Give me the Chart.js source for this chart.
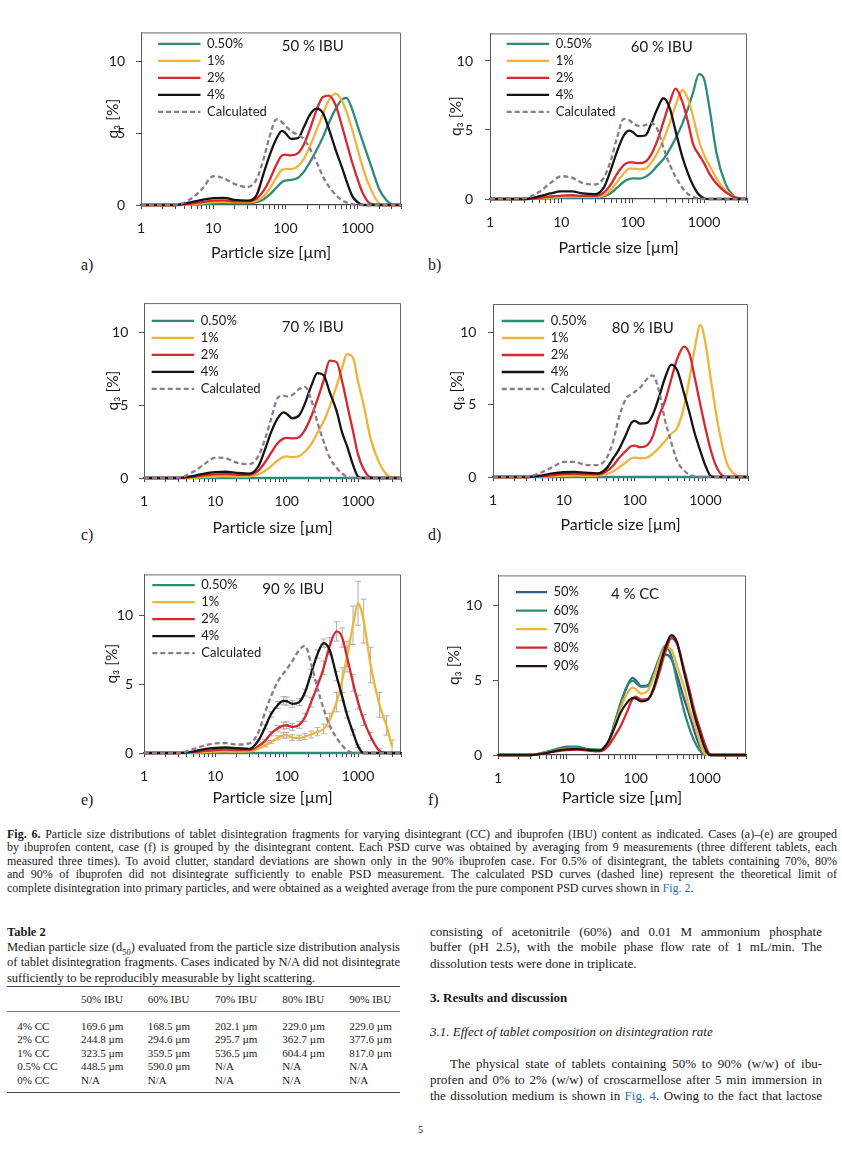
<!DOCTYPE html>
<html><head><meta charset="utf-8">
<title>Fig. 6 – Particle size distributions</title>
<script src="https://cdn.jsdelivr.net/npm/chart.js@4.4.1/dist/chart.umd.min.js"></script>
<style>
html,body{margin:0;padding:0;background:#fff}
body{width:842px;height:1154px;position:relative;overflow:hidden;font-family:"Liberation Serif","Times New Roman",serif;color:#1a1a1a}
.t{position:absolute;white-space:nowrap;line-height:1}
.cap{font-size:12px}
.tc{font-size:12.5px}
.tb{font-size:11px}
.rc{font-size:13px}
.pl{font-size:16px}
.lnk{color:#2f6fb0}
.rule{position:absolute;left:7px;width:393px;background:#444}
</style></head><body>

<div class="t pl" style="left:81px;top:257px">a)</div>
<div class="t pl" style="left:428px;top:257px">b)</div>
<div class="t pl" style="left:81px;top:527px">c)</div>
<div class="t pl" style="left:428px;top:527px">d)</div>
<div class="t pl" style="left:81px;top:792px">e)</div>
<div class="t pl" style="left:428px;top:792px">f)</div>

<div class="t cap j" data-w="830" style="left:7px;top:828.1px"><b>Fig. 6.</b> Particle size distributions of tablet disintegration fragments for varying disintegrant (CC) and ibuprofen (IBU) content as indicated. Cases (a)–(e) are grouped</div>
<div class="t cap j" data-w="830" style="left:7px;top:841.4px">by ibuprofen content, case (f) is grouped by the disintegrant content. Each PSD curve was obtained by averaging from 9 measurements (three different tablets, each</div>
<div class="t cap j" data-w="830" style="left:7px;top:854.8px">measured three times). To avoid clutter, standard deviations are shown only in the 90% ibuprofen case. For 0.5% of disintegrant, the tablets containing 70%, 80%</div>
<div class="t cap j" data-w="830" style="left:7px;top:868.4px">and 90% of ibuprofen did not disintegrate sufficiently to enable PSD measurement. The calculated PSD curves (dashed line) represent the theoretical limit of</div>
<div class="t cap" style="left:7px;top:881.8px">complete disintegration into primary particles, and were obtained as a weighted average from the pure component PSD curves shown in <span class="lnk">Fig. 2</span>.</div>

<div class="t tc" style="left:7px;top:925.9px"><b>Table 2</b></div>
<div class="t tc j" data-w="393" style="left:7px;top:940.6px">Median particle size (d<sub style="font-size:8.5px;line-height:0">50</sub>) evaluated from the particle size distribution analysis</div>
<div class="t tc j" data-w="393" style="left:7px;top:956.2px">of tablet disintegration fragments. Cases indicated by N/A did not disintegrate</div>
<div class="t tc" style="left:7px;top:971.6px">sufficiently to be reproducibly measurable by light scattering.</div>
<div class="rule" style="top:985.5px;height:1px"></div>
<div class="rule" style="top:1011px;height:0.8px;background:#777"></div>
<div class="rule" style="top:1092px;height:1px"></div>
<div id="tbl"></div>

<div class="t rc j" data-w="392" style="left:430px;top:924.6px">consisting of acetonitrile (60%) and 0.01 M ammonium phosphate</div>
<div class="t rc j" data-w="392" style="left:430px;top:940.3px">buffer (pH 2.5), with the mobile phase flow rate of 1 mL/min. The</div>
<div class="t rc" style="left:430px;top:956.6px">dissolution tests were done in triplicate.</div>
<div class="t rc" style="left:430px;top:991.3px"><b>3. Results and discussion</b></div>
<div class="t rc" style="left:430px;top:1024.6px"><i>3.1. Effect of tablet composition on disintegration rate</i></div>
<div class="t rc j" data-w="372" style="left:450px;top:1056.9px">The physical state of tablets containing 50% to 90% (w/w) of ibu-</div>
<div class="t rc j" data-w="392" style="left:430px;top:1073.3px">profen and 0% to 2% (w/w) of croscarmellose after 5 min immersion in</div>
<div class="t rc j" data-w="392" style="left:430px;top:1088.6px">the dissolution medium is shown in <span class="lnk">Fig. 4</span>. Owing to the fact that lactose</div>

<div class="t" style="left:418px;top:1125px;font-size:10px">5</div>

<script>
// ---------- data ----------
const sizes = [1,3,5,7,10,14,20,30,40,50,60,75,90,100,120,150,180,220,270,330,400,500,600,700,850,1000,1200,1500,2000,2500,3000,4000];
const xTickValues = [1,2,3,4,5,6,7,8,9,10,20,30,40,50,60,70,80,90,100,200,300,400,500,600,700,800,900,1000,2000,3000,4000];
const xLabelValues = [1,10,100,1000];
const yTickValues = [0,5,10];
const ccLabels = ['0.50%','1%','2%','4%','Calculated'];
const ibuLabels = ['50%','60%','70%','80%','90%'];
const panelTitles = ['50 % IBU','60 % IBU','70 % IBU','80 % IBU','90 % IBU','4 % CC'];

// 50 % IBU
const ibu50_cc05 = [0,0,0.02,0.05,0.1,0.12,0.12,0.12,0.2,0.4,0.7,1.2,1.6,1.7,1.75,1.9,2.3,3.0,3.8,4.7,5.7,6.7,7.3,7.45,6.6,5.5,4.3,2.9,1.1,0.35,0.05,0];
const ibu50_cc1  = [0,0,0.05,0.12,0.2,0.22,0.2,0.2,0.3,0.6,1.1,1.9,2.45,2.5,2.5,2.7,3.2,4.1,5.2,6.3,7.3,7.75,7.3,6.5,5.2,3.9,2.5,1.2,0.1,0,0,0];
const ibu50_cc2  = [0,0,0.1,0.2,0.3,0.32,0.25,0.25,0.45,1.0,1.7,2.8,3.45,3.5,3.45,3.6,4.2,5.3,6.6,7.5,7.6,6.9,5.6,4.4,2.9,1.8,0.75,0.1,0,0,0,0];
const ibu50_cc4  = [0,0,0.2,0.35,0.48,0.5,0.35,0.3,0.7,2.2,3.4,4.6,5.15,5.0,4.6,4.65,5.4,6.3,6.7,6.4,5.3,3.8,2.7,1.7,0.6,0.2,0,0,0,0,0,0];
const ibu50_calc = [0,0.02,0.45,1.1,2.0,1.85,1.45,1.25,1.8,3.2,4.7,5.95,5.75,5.5,5.15,4.85,4.6,3.9,3.0,2.0,1.3,0.7,0.35,0.18,0.06,0,0,0,0,0,0,0];
// 60 % IBU
const ibu60_cc05 = [0,0,0.02,0.05,0.08,0.1,0.1,0.1,0.2,0.45,0.8,1.25,1.45,1.5,1.48,1.6,1.9,2.4,2.9,3.6,4.4,5.5,6.6,7.7,9.05,8.7,6.5,3.3,1.1,0.3,0.03,0];
const ibu60_cc1  = [0,0,0.05,0.1,0.15,0.17,0.15,0.15,0.3,0.7,1.2,1.85,2.2,2.2,2.15,2.2,2.6,3.3,4.3,5.5,6.8,7.9,7.2,6.0,4.2,3.2,2.4,1.5,0.6,0.25,0.08,0];
const ibu60_cc2  = [0,0,0.08,0.18,0.25,0.27,0.22,0.22,0.5,1.1,1.8,2.45,2.65,2.65,2.6,2.7,3.2,4.2,5.6,7.0,8.0,7.0,5.5,4.0,3.2,2.6,1.8,1.1,0.5,0.2,0.05,0];
const ibu60_cc4  = [0,0,0.2,0.4,0.55,0.55,0.4,0.35,0.9,2.2,3.4,4.6,4.95,4.85,4.55,4.6,5.4,6.5,7.3,6.6,4.9,3.0,1.8,1.0,0.3,0.05,0,0,0,0,0,0];
const ibu60_calc = [0,0.05,0.55,1.15,1.65,1.55,1.15,1.05,1.6,2.9,4.4,5.8,5.7,5.5,5.3,5.35,5.5,5.1,3.7,2.5,1.6,0.8,0.35,0.15,0.03,0,0,0,0,0,0,0];
// 70 % IBU
const ibu70_cc05 = [0,0,0,0,0,0,0,0,0,0,0,0,0,0,0,0,0,0,0,0,0,0,0,0,0,0,0,0,0,0,0,0];
const ibu70_cc1  = [0,0,0.03,0.07,0.1,0.12,0.1,0.12,0.25,0.5,0.8,1.2,1.45,1.48,1.43,1.5,1.8,2.3,3.1,3.9,4.9,6.3,7.6,8.5,8.25,6.6,5.0,2.7,1.0,0.25,0.03,0];
const ibu70_cc2  = [0,0,0.08,0.18,0.25,0.27,0.22,0.22,0.5,1.1,1.7,2.4,2.7,2.75,2.72,2.8,3.3,4.2,5.4,6.7,8.05,7.95,6.6,5.1,3.2,1.6,0.6,0.05,0,0,0,0];
const ibu70_cc4  = [0,0,0.15,0.3,0.4,0.43,0.35,0.3,0.8,2.0,3.1,4.1,4.5,4.4,4.1,4.3,5.1,6.3,7.2,7.05,5.9,4.6,3.1,2.2,0.9,0.1,0,0,0,0,0,0];
const ibu70_calc = [0,0.02,0.45,0.95,1.4,1.35,1.05,0.95,1.5,2.7,4.0,5.5,5.65,5.6,5.7,6.1,6.25,5.4,3.8,2.5,1.4,0.7,0.3,0.1,0,0,0,0,0,0,0,0];
// 80 % IBU
const ibu80_cc05 = [0,0,0,0,0,0,0,0,0,0,0,0,0,0,0,0,0,0,0,0,0,0,0,0,0,0,0,0,0,0,0,0];
const ibu80_cc1  = [0,0,0.02,0.05,0.08,0.1,0.08,0.1,0.2,0.4,0.65,1.0,1.3,1.35,1.3,1.35,1.6,2.0,2.5,3.0,3.4,4.9,6.9,8.8,10.55,9.3,6.7,3.7,1.0,0.25,0.05,0];
const ibu80_cc2  = [0,0,0.06,0.13,0.2,0.22,0.18,0.18,0.4,0.8,1.3,1.8,2.15,2.18,2.07,2.2,2.8,4.2,5.3,6.8,8.2,9.05,8.5,7.0,5.0,3.4,1.8,0.5,0,0,0,0];
const ibu80_cc4  = [0,0,0.12,0.25,0.33,0.36,0.3,0.25,0.6,1.3,1.9,2.9,3.75,3.9,3.7,3.75,4.3,5.5,6.9,7.8,7.4,5.8,4.4,3.1,1.8,0.8,0.05,0,0,0,0,0];
const ibu80_calc = [0,0.02,0.35,0.7,1.05,1.05,0.85,0.82,1.3,2.5,4.1,5.4,5.75,5.9,6.2,6.8,7.05,6.0,3.9,2.4,1.1,0.45,0.15,0.03,0,0,0,0,0,0,0,0];
// 90 % IBU
const ibu90_cc05 = [0,0,0,0,0,0,0,0,0,0,0,0,0,0,0,0,0,0,0,0,0,0,0,0,0,0,0,0,0,0,0,0];
const ibu90_cc1  = [0,0,0.03,0.07,0.1,0.12,0.1,0.12,0.3,0.55,0.8,1.1,1.28,1.3,1.12,1.1,1.2,1.35,1.55,1.75,2.4,3.7,5.3,7.0,9.3,10.9,9.6,6.4,3.5,2.0,0.45,null];
const ibu90_cc2  = [0,0,0.06,0.15,0.22,0.25,0.22,0.22,0.5,0.9,1.4,1.8,2.0,2.02,1.9,2.05,2.6,3.7,4.9,6.2,7.8,8.85,8.4,7.0,5.1,3.7,2.4,1.2,0.15,0,0,0];
const ibu90_cc4  = [0,0,0.12,0.28,0.38,0.4,0.35,0.3,0.9,1.9,2.8,3.5,3.8,3.78,3.58,3.7,4.4,5.8,7.2,8.0,7.5,5.6,4.1,2.8,1.5,0.5,0,0,0,0,0,0];
const ibu90_calc = [0,0,0.3,0.55,0.7,0.72,0.62,0.7,1.5,3.0,4.1,5.2,5.8,6.1,6.7,7.5,7.8,6.5,4.7,3.2,2.0,1.1,0.55,0.2,0.02,0,0,0,0,0,0,0];
// standard deviations (90 % IBU only)
const ibu90_cc1_sd = [0,0,0,0,0,0,0,0,0,0.1,0.12,0.15,0.2,0.2,0.2,0.2,0.2,0.25,0.3,0.35,0.5,0.7,0.9,1.1,1.4,1.6,1.6,1.3,0.9,0.7,0.5,0];
const ibu90_cc2_sd = [0,0,0,0,0,0,0,0,0,0.1,0.15,0.2,0.25,0.25,0.25,0.25,0.3,0.35,0.4,0.5,0.6,0.7,0.7,0.7,0.6,0.5,0.4,0.3,0.15,0,0,0];
const ibu90_cc4_sd = [0,0,0,0,0,0,0,0,0.1,0.15,0.2,0.25,0.3,0.3,0.25,0.25,0.25,0.3,0.3,0.3,0.35,0.35,0.3,0.25,0.2,0.1,0,0,0,0,0,0];

// Table 2
const tableCols = ['50% IBU','60% IBU','70% IBU','80% IBU','90% IBU'];
const tableRows = ['4% CC','2% CC','1% CC','0.5% CC','0% CC'];
const tableValues = [
  ['169.6 µm','168.5 µm','202.1 µm','229.0 µm','229.0 µm'],
  ['244.8 µm','294.6 µm','295.7 µm','362.7 µm','377.6 µm'],
  ['323.5 µm','359.5 µm','536.5 µm','604.4 µm','817.0 µm'],
  ['448.5 µm','590.0 µm','N/A','N/A','N/A'],
  ['N/A','N/A','N/A','N/A','N/A']
];

// ---------- styles & layout ----------
const ccColors  = ['#2f8a7a','#f0b43c','#d6282f','#141414','#8d7b8d'];
const ibuColors = ['#2f5d8c','#2f8a7a','#f0b43c','#d6282f','#24160f'];
const calcDash = [5,3];

(function buildTable(){
  const tbl = document.getElementById('tbl');
  const colX = [81,147.7,215,282.3,349.3];
  const rowY = [1020.6,1034.1,1047.6,1061.1,1074.6];
  let h = '';
  tableCols.forEach((c,i)=>{ h += `<div class="t tb" style="left:${colX[i]}px;top:993.9px">${c}</div>`; });
  tableRows.forEach((r,j)=>{
    h += `<div class="t tb" style="left:17.3px;top:${rowY[j]}px">${r}</div>`;
    tableValues[j].forEach((v,i)=>{ h += `<div class="t tb" style="left:${colX[i]}px;top:${rowY[j]}px">${v}</div>`; });
  });
  tbl.innerHTML = h;
})();

function fitLines(){
  document.querySelectorAll('.j').forEach(el => {
    el.style.wordSpacing = '0px';
    const target = +el.dataset.w;
    const w = el.getBoundingClientRect().width;
    const n = (el.textContent.match(/ /g) || []).length;
    if (n) el.style.wordSpacing = ((target - w) / n) + 'px';
  });
}
fitLines();
if (document.fonts && document.fonts.ready) document.fonts.ready.then(fitLines);

Chart.defaults.font.family = "Lato, 'Open Sans', sans-serif";
Chart.defaults.color = '#1a1a1a';

const framePlugin = {
  id: 'frame',
  beforeDatasetsDraw(chart) {
    const {ctx, chartArea: a} = chart;
    ctx.save();
    ctx.strokeStyle = '#6a6a6a'; ctx.lineWidth = 1;
    ctx.beginPath();
    ctx.moveTo(a.left, a.top + 0.5); ctx.lineTo(a.right - 0.5, a.top + 0.5); ctx.lineTo(a.right - 0.5, a.bottom);
    ctx.stroke();
    ctx.restore();
  }
};

const errorBarPlugin = {
  id: 'errorBars',
  beforeDatasetsDraw(chart) {
    const {ctx, scales: {x, y}} = chart;
    chart.data.datasets.forEach(ds => {
      if (!ds.errors) return;
      ctx.save();
      ctx.strokeStyle = 'rgba(165,165,165,0.9)'; ctx.lineWidth = 1;
      ds.errors.forEach((e, i) => {
        const p = ds.data[i];
        if (!e || p.y == null) return;
        const px = x.getPixelForValue(p.x);
        const y1 = y.getPixelForValue(p.y + e), y2 = y.getPixelForValue(Math.max(0, p.y - e));
        ctx.beginPath();
        ctx.moveTo(px, y1); ctx.lineTo(px, y2);
        ctx.moveTo(px - 3, y1); ctx.lineTo(px + 3, y1);
        ctx.moveTo(px - 3, y2); ctx.lineTo(px + 3, y2);
        ctx.stroke();
      });
      ctx.restore();
    });
  }
};

const panelDeco = {
  id: 'panelDeco',
  afterLayout(chart, args, o) {
    if (chart.legend) {
      chart.legend.left = chart.chartArea.left + o.dx;
      chart.legend.top = chart.chartArea.top + o.dy;
    }
  },
  afterDatasetsDraw(chart, args, o) {
    const {ctx, chartArea: a} = chart;
    ctx.save();
    ctx.font = '15px Lato';
    ctx.fillStyle = '#1a1a1a';
    ctx.textAlign = 'center'; ctx.textBaseline = 'middle';
    ctx.fillText(o.text, a.left + o.tx, a.top + o.ty);
    ctx.restore();
  }
};

function toPoints(arr) { return sizes.map((s, i) => ({x: s, y: arr[i]})); }

function seriesSet(arrs, labels, colors, errs) {
  return arrs.map((arr, k) => ({
    label: labels[k],
    data: toPoints(arr),
    borderColor: colors[k],
    backgroundColor: colors[k],
    borderWidth: 2.3,
    borderDash: labels[k] === 'Calculated' ? calcDash : [],
    pointRadius: 0,
    cubicInterpolationMode: 'monotone',
    clip: 4,
    order: 10 - k,
    errors: errs ? errs[k] : null
  }));
}

const panels = [
  {box:[141,23,401,205], ymax:12, xH:59, yTitlePad:17.7, yTickPad:11,   lx:13,   ly:1,   lw:42.5, lpad:4,   tx:171.7, ty:13.7,
   sets: seriesSet([ibu50_cc05, ibu50_cc1, ibu50_cc2, ibu50_cc4, ibu50_calc], ccLabels, ccColors), title: panelTitles[0]},
  {box:[490,23,747,199], ymax:12, xH:60, yTitlePad:11.7, yTickPad:12,   lx:12.7, ly:0,   lw:42.5, lpad:4,   tx:171.7, ty:13.7,
   sets: seriesSet([ibu60_cc05, ibu60_cc1, ibu60_cc2, ibu60_cc4, ibu60_calc], ccLabels, ccColors), title: panelTitles[1]},
  {box:[144,294,401,478], ymax:12, xH:61, yTitlePad:15,   yTickPad:10.7, lx:3.7, ly:7.2, lw:42.5, lpad:4,   tx:168.7, ty:24.3,
   sets: seriesSet([ibu70_cc05, ibu70_cc1, ibu70_cc2, ibu70_cc4, ibu70_calc], ccLabels, ccColors), title: panelTitles[2]},
  {box:[493,294,748,477], ymax:12, xH:59, yTitlePad:9.7,  yTickPad:11.6, lx:4.7, ly:6.5, lw:42.5, lpad:4,   tx:149.7, ty:24.3,
   sets: seriesSet([ibu80_cc05, ibu80_cc1, ibu80_cc2, ibu80_cc4, ibu80_calc], ccLabels, ccColors), title: panelTitles[3]},
  {box:[144,570,401,753], ymax:13, xH:56, yTitlePad:14.1, yTickPad:6,    lx:4.3,  ly:0.2, lw:42.5, lpad:4,   tx:149.3, ty:15,
   sets: seriesSet([ibu90_cc05, ibu90_cc1, ibu90_cc2, ibu90_cc4, ibu90_calc], ccLabels, ccColors,
                   [null, ibu90_cc1_sd, ibu90_cc2_sd, ibu90_cc4_sd, null]), title: panelTitles[4]},
  {box:[498,566,746,755], ymax:12, xH:54, yTitlePad:2.0,  yTickPad:11,   lx:12.5, ly:4.7, lw:31,   lpad:5.5, tx:137,   ty:19,
   sets: seriesSet([ibu50_cc4, ibu60_cc4, ibu70_cc4, ibu80_cc4, ibu90_cc4], ibuLabels, ibuColors), title: panelTitles[5]}
];

panels.forEach(P => {
  const [l, t, r, b] = P.box;
  const W = 55 + (r - l) + 12, H = 10 + (b - t) + P.xH;
  const cv = document.createElement('canvas');
  cv.width = W; cv.height = H;
  cv.style.cssText = `position:absolute;left:${l - 55}px;top:${t - 10}px;width:${W}px;height:${H}px`;
  document.body.appendChild(cv);
  new Chart(cv, {
    type: 'line',
    data: {datasets: P.sets},
    options: {
      responsive: false, animation: false, events: [],
      layout: {padding: {left: 0, top: 10, right: 12, bottom: 0}},
      scales: {
        x: {
          type: 'logarithmic', min: 1, max: 4000,
          afterBuildTicks: s => { s.ticks = xTickValues.map(v => ({value: v, major: xLabelValues.includes(v)})); },
          afterFit: s => { s.height = P.xH; },
          ticks: {autoSkip: false, maxRotation: 0, minRotation: 0, padding: 11, color: '#1a1a1a', font: {size: 14},
                  callback: v => xLabelValues.includes(v) ? String(v) : ''},
          grid: {drawOnChartArea: false, drawTicks: true, tickLength: 4, color: '#444'},
          border: {display: true, color: '#444', width: 1.2},
          title: {display: true, text: 'Particle size [µm]', color: '#1a1a1a', font: {size: 16}, padding: {top: 0, bottom: 1.4}}
        },
        y: {
          type: 'linear', min: 0, max: P.ymax,
          afterBuildTicks: s => { s.ticks = yTickValues.map(v => ({value: v})); },
          afterFit: s => { s.width = 55; },
          ticks: {padding: P.yTickPad, color: '#1a1a1a', font: {size: 14}},
          grid: {drawOnChartArea: false, drawTicks: true, tickLength: 5, color: '#555'},
          border: {display: true, color: '#5a5a5a', width: 1},
          title: {display: true, text: 'q\u2083 [%]', color: '#1a1a1a', font: {size: 15.5}, padding: {top: P.yTitlePad, bottom: 0}}
        }
      },
      plugins: {
        legend: {
          display: true, position: 'chartArea', align: 'start',
          labels: {boxWidth: P.lw, boxHeight: 0, padding: P.lpad, color: '#1a1a1a', font: {size: 13},
                   sort: (a, b) => a.datasetIndex - b.datasetIndex}
        },
        tooltip: {enabled: false},
        panelDeco: {text: P.title, tx: P.tx, ty: P.ty, dx: P.lx, dy: P.ly}
      }
    },
    plugins: [framePlugin, errorBarPlugin, panelDeco]
  });
});
</script>
</body></html>
